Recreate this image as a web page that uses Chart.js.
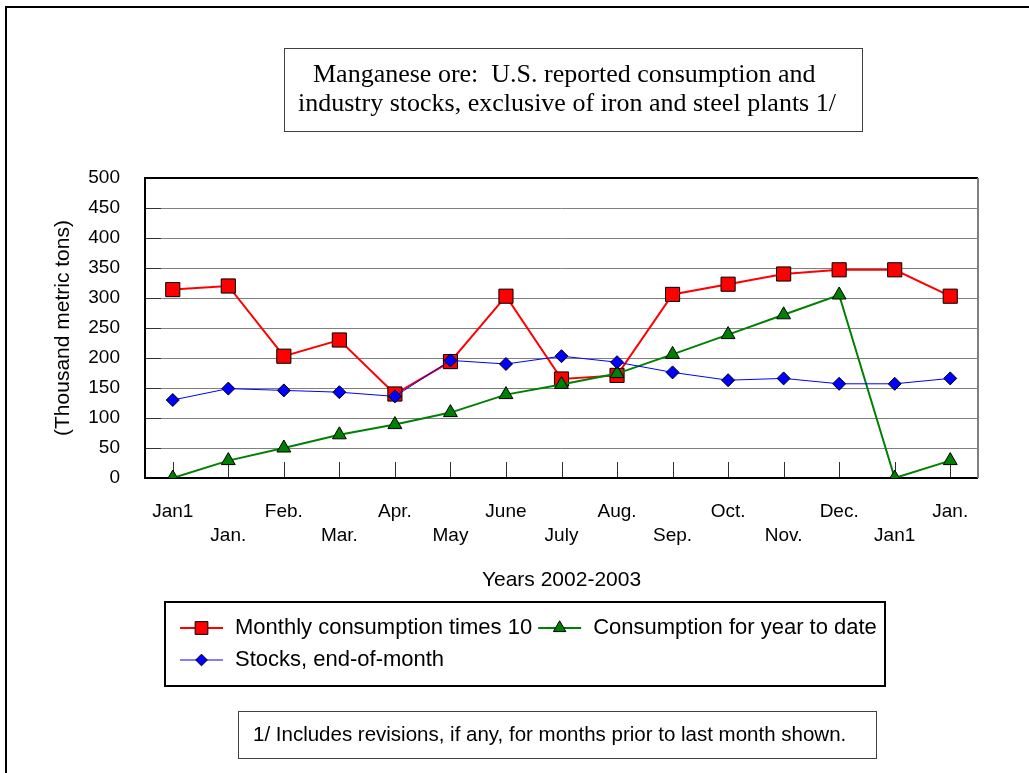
<!DOCTYPE html>
<html lang="en">
<head>
<meta charset="UTF-8">
<title>Manganese ore: U.S. reported consumption and industry stocks</title>
<script src="https://cdn.jsdelivr.net/npm/chart.js"></script>
<style>
    body { margin: 0; background: #fff; }
    canvas { display: block; }
</style>
</head>
<body>
<canvas id="mnChart" width="1029" height="773"></canvas>
<script>
// values (thousand metric tons)
const categories = ['Jan1', 'Jan.', 'Feb.', 'Mar.', 'Apr.', 'May', 'June', 'July', 'Aug.', 'Sep.', 'Oct.', 'Nov.', 'Dec.', 'Jan1', 'Jan.'];
const monthlyTimes10 = [314, 320, 203, 230, 140, 194, 303, 165, 171, 306, 323, 340, 347, 347, 303];
const yearToDate = [0, 29, 50, 72, 89, 109, 139, 156, 174, 206, 239, 272, 305, 0, 29];
const stocks = [130, 149, 146, 143, 136, 196, 190, 203, 193, 176, 163, 166, 157, 157, 166];
const seriesNames = ['Monthly consumption times 10', 'Consumption for year to date', 'Stocks, end-of-month'];
const titleLines = ['Manganese ore:  U.S. reported consumption and', 'industry stocks, exclusive of iron and steel plants 1/'];
const footnote = '1/ Includes revisions, if any, for months prior to last month shown.';

const sans = "'Liberation Sans', Arial, sans-serif";
const serif = "'Liberation Serif', 'Times New Roman', serif";

function drawMarker(ctx, style, x, y, r, fill) {
    ctx.save();
    ctx.fillStyle = fill;
    ctx.strokeStyle = '#000';
    ctx.lineWidth = 1;
    ctx.beginPath();
    if (style === 'rect') {
        const h = r * Math.SQRT1_2;
        ctx.rect(x - h, y - h, 2 * h, 2 * h);
    } else if (style === 'rectRot') {
        ctx.moveTo(x, y - r); ctx.lineTo(x + r, y); ctx.lineTo(x, y + r); ctx.lineTo(x - r, y);
        ctx.closePath();
    } else {
        const w = r * Math.sin(Math.PI / 3);
        ctx.moveTo(x, y - r); ctx.lineTo(x + w, y + r / 2); ctx.lineTo(x - w, y + r / 2);
        ctx.closePath();
    }
    ctx.fill();
    ctx.stroke();
    ctx.restore();
}

// boxes, legend and inside tick marks around the plot
const decorations = {
    id: 'decorations',
    beforeDraw(chart) {
        const ctx = chart.ctx;
        ctx.save();
        ctx.fillStyle = '#fff';
        ctx.fillRect(0, 0, chart.width, chart.height);

        // page frame (runs off right and bottom)
        ctx.strokeStyle = '#000';
        ctx.lineWidth = 2;
        ctx.strokeRect(6, 7, 1060, 800);

        // title box
        ctx.lineWidth = 1;
        ctx.strokeStyle = '#404040';
        ctx.strokeRect(284.5, 48.5, 578, 83);
        ctx.fillStyle = '#000';
        ctx.font = '26px ' + serif;
        ctx.textBaseline = 'alphabetic';
        ctx.textAlign = 'left';
        ctx.fillText(titleLines[0], 313, 82);
        ctx.fillText(titleLines[1], 298, 111);

        // legend box
        ctx.lineWidth = 2;
        ctx.strokeStyle = '#000';
        ctx.strokeRect(165, 602, 720, 84);
        ctx.font = '22px ' + sans;
        ctx.textBaseline = 'middle';
        let x = 180, y = 628;
        chart.data.datasets.forEach(ds => {
            const tw = ctx.measureText(ds.label).width;
            if (x + 55 + tw > 884) { x = 180; y += 32; }
            ctx.strokeStyle = ds.borderColor;
            ctx.lineWidth = ds.borderWidth;
            ctx.beginPath();
            ctx.moveTo(x, y); ctx.lineTo(x + 43, y);
            ctx.stroke();
            drawMarker(ctx, ds.pointStyle, x + 21.5, y, ds.pointRadius * 0.9, ds.pointBackgroundColor);
            ctx.fillStyle = '#000';
            ctx.fillText(ds.label, x + 55, y);
            x += 55 + tw + 6;
        });

        // footnote box
        ctx.lineWidth = 1;
        ctx.strokeStyle = '#404040';
        ctx.strokeRect(238.5, 711.5, 638, 47);
        ctx.font = '20.5px ' + sans;
        ctx.fillStyle = '#000';
        ctx.fillText(footnote, 253, 735);
        ctx.restore();
    },
    beforeDatasetsDraw(chart) {
        const ctx = chart.ctx;
        const a = chart.chartArea;
        const xs = chart.scales.x, ys = chart.scales.y;
        ctx.save();
        ctx.lineWidth = 1;
        ctx.strokeStyle = '#303030';
        ctx.beginPath();
        categories.forEach((c, i) => {
            const px = Math.round(xs.getPixelForValue(i)) + 0.5;
            ctx.moveTo(px, a.bottom); ctx.lineTo(px, a.bottom - 16);
        });
        ys.ticks.forEach(t => {
            const py = Math.round(ys.getPixelForValue(t.value)) + 0.5;
            ctx.moveTo(a.left, py); ctx.lineTo(a.left + 16, py);
        });
        ctx.stroke();
        // plot frame
        ctx.lineWidth = 2;
        ctx.strokeStyle = '#000';
        ctx.beginPath();
        ctx.moveTo(a.right, a.top); ctx.lineTo(a.left, a.top); ctx.lineTo(a.left, a.bottom); ctx.lineTo(a.right, a.bottom);
        ctx.stroke();
        ctx.strokeStyle = '#808080';
        ctx.beginPath();
        ctx.moveTo(a.right, a.top); ctx.lineTo(a.right, a.bottom);
        ctx.stroke();
        ctx.restore();
    }
};

Chart.defaults.font.family = sans;
Chart.defaults.color = '#000';

new Chart(document.getElementById('mnChart'), {
    type: 'line',
    data: {
        labels: categories,
        datasets: [{
            label: seriesNames[0],
            data: monthlyTimes10,
            borderColor: '#ff0000',
            borderWidth: 2,
            pointStyle: 'rect',
            pointRadius: 10,
            pointBackgroundColor: '#ff0000',
            pointBorderColor: '#000',
            pointBorderWidth: 1,
            order: 3
        }, {
            label: seriesNames[1],
            data: yearToDate,
            borderColor: '#008000',
            borderWidth: 2,
            pointStyle: 'triangle',
            pointRadius: 8,
            pointBackgroundColor: '#008000',
            pointBorderColor: '#000',
            pointBorderWidth: 1,
            order: 2
        }, {
            label: seriesNames[2],
            data: stocks,
            borderColor: '#0000ff',
            borderWidth: 1,
            pointStyle: 'rectRot',
            pointRadius: 6.5,
            pointBackgroundColor: '#0000ff',
            pointBorderColor: '#000',
            pointBorderWidth: 1,
            order: 1
        }]
    },
    options: {
        responsive: false,
        animation: false,
        events: [],
        layout: { padding: { left: 51, top: 178, right: 51, bottom: 180 } },
        plugins: {
            legend: { display: false },
            tooltip: { enabled: false }
        },
        scales: {
            x: {
                offset: true,
                grid: { display: false, drawTicks: false },
                border: { display: false },
                ticks: {
                    autoSkip: false,
                    maxRotation: 0,
                    padding: 21,
                    font: { size: 19, lineHeight: 1.3 },
                    callback: (v, i) => i % 2 === 0 ? [categories[i], ''] : ['', categories[i]]
                },
                title: { display: true, text: 'Years 2002-2003', font: { size: 21 }, padding: 0 },
                afterFit: s => { s.height = 115; }
            },
            y: {
                min: 0,
                max: 500,
                grid: { color: '#808080', lineWidth: 1, drawTicks: false },
                border: { display: false },
                ticks: { stepSize: 50, padding: 25, font: { size: 19 } },
                title: { display: true, text: '(Thousand metric tons)', font: { size: 21 }, padding: 0 },
                afterFit: s => { s.width = 94; }
            }
        }
    },
    plugins: [decorations]
});
</script>
</body>
</html>
